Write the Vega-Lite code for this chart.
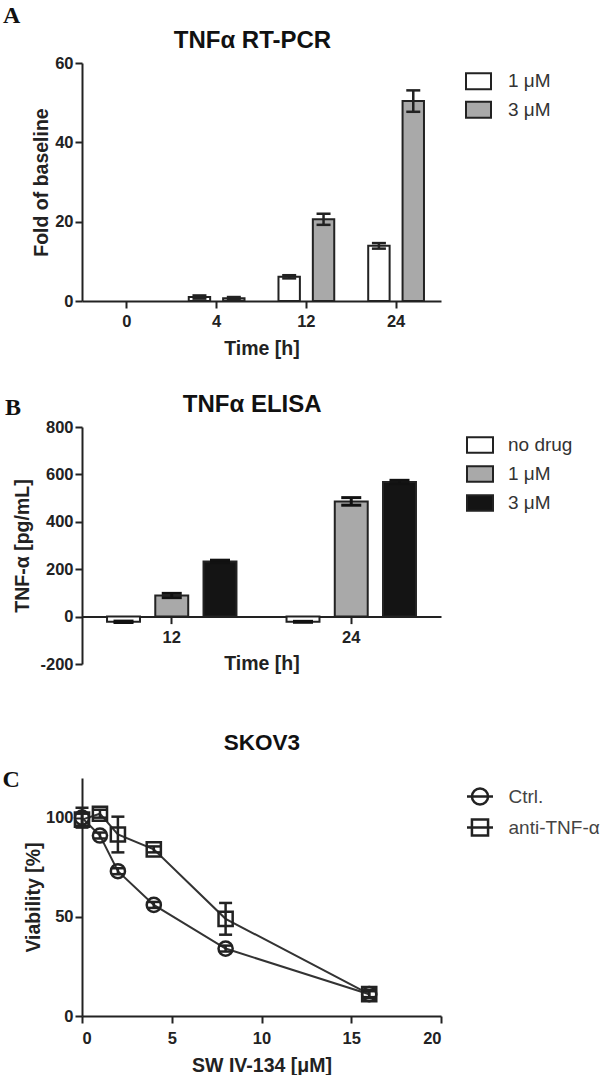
{
  "$schema": "https://vega.github.io/schema/vega-lite/v6.json",
  "background": "white",
  "padding": {"left": 2, "top": 3, "right": 0, "bottom": 0},
  "bounds": "flush",
  "spacing": 114,
  "resolve": {"scale": {"fill": "independent", "xOffset": "independent", "shape": "independent", "x": "independent", "y": "independent"}},
  "config": {
    "view": {"stroke": null},
    "font": "Liberation Sans",
    "axis": {"domainColor": "#222", "domainWidth": 2, "tickColor": "#222", "tickWidth": 2, "tickSize": 7, "labelFont": "Liberation Sans", "labelFontWeight": "bold", "labelFontSize": 16.5, "labelColor": "#222", "labelPadding": 2, "titleFont": "Liberation Sans", "titleFontWeight": "bold", "titleFontSize": 19.5, "titleColor": "#222", "grid": false},
    "axisX": {"labelPadding": 5.5, "titlePadding": 9, "labelAngle": 0},
    "axisY": {"titlePadding": 5.5},
    "legend": {"labelFont": "Liberation Sans", "labelFontSize": 19, "labelColor": "#333", "labelFontWeight": "normal", "padding": 0, "orient": "none"},
    "title": {"font": "Liberation Serif", "fontSize": 24, "fontWeight": "bold", "color": "#111", "anchor": "start", "frame": "group", "offset": 6}
  },
  "vconcat": [
    {
      "width": 359, "height": 238,
      "title": {"text": "A", "dx": -79, "dy": 5.4},
      "data": {"values": [
        {"time": "4", "conc": "1 μM", "v": 1.0, "lo": 0.6, "hi": 1.4},
        {"time": "4", "conc": "3 μM", "v": 0.7, "lo": 0.4, "hi": 1.0},
        {"time": "12", "conc": "1 μM", "v": 6.1, "lo": 5.7, "hi": 6.5},
        {"time": "12", "conc": "3 μM", "v": 20.6, "lo": 19.2, "hi": 22.0},
        {"time": "24", "conc": "1 μM", "v": 13.9, "lo": 13.2, "hi": 14.6},
        {"time": "24", "conc": "3 μM", "v": 50.4, "lo": 47.7, "hi": 53.1}
      ]},
      "resolve": {"axis": {"x": "independent", "y": "independent"}},
      "layer": [
        {
          "mark": {"type": "bar", "stroke": "#222", "strokeWidth": 2},
          "encoding": {
            "x": {"field": "time", "type": "nominal", "scale": {"domain": ["0", "4", "12", "24"], "paddingInner": 0.233, "paddingOuter": 0.117}, "axis": {"title": "Time [h]", "orient": "bottom"}},
            "xOffset": {"field": "conc", "type": "nominal", "scale": {"domain": ["1 μM", "3 μM"], "paddingInner": 0.377, "paddingOuter": 0.19}},
            "y": {"field": "v", "type": "quantitative", "scale": {"domain": [0, 60], "nice": false}, "axis": {"title": "Fold of baseline", "orient": "left", "values": [0, 20, 40, 60], "titlePadding": 3.5}},
            "fill": {"field": "conc", "type": "nominal", "scale": {"domain": ["1 μM", "3 μM"], "range": ["#ffffff", "#a9a9a9"]}, "legend": {"title": null, "legendX": 383, "legendY": 4.8, "symbolType": "M-1,-0.64H1V0.64H-1Z", "symbolSize": 625, "symbolStrokeColor": "#222", "symbolStrokeWidth": 2, "rowPadding": 2.5, "labelOffset": 16}}
          }
        },
        {
          "mark": {"type": "rule", "stroke": "#222", "strokeWidth": 2.5},
          "encoding": {
            "x": {"field": "time", "type": "nominal", "axis": {"orient": "top", "title": "TNFα RT-PCR", "labels": false, "ticks": false, "domain": false, "titleFontSize": 24, "titleX": 170, "titleY": -15.7, "titleAlign": "center", "titleBaseline": "alphabetic", "titleAngle": 0, "titleColor": "#111"}},
            "xOffset": {"field": "conc", "type": "nominal"},
            "y": {"field": "lo", "type": "quantitative", "axis": null},
            "y2": {"field": "hi"}
          }
        },
        {
          "mark": {"type": "tick", "color": "#222", "thickness": 2.5, "size": 14, "opacity": 1},
          "encoding": {
            "x": {"field": "time", "type": "nominal", "axis": null},
            "xOffset": {"field": "conc", "type": "nominal"},
            "y": {"field": "hi", "type": "quantitative", "axis": null}
          }
        },
        {
          "mark": {"type": "tick", "color": "#222", "thickness": 2.5, "size": 14, "opacity": 1},
          "encoding": {
            "x": {"field": "time", "type": "nominal", "axis": null},
            "xOffset": {"field": "conc", "type": "nominal"},
            "y": {"field": "lo", "type": "quantitative", "axis": null}
          }
        }
      ]
    },
    {
      "width": 359, "height": 249,
      "title": {"text": "B", "dx": -77, "dy": 33.4},
      "data": {"values": [
        {"time": "12", "trt": "no drug", "v": -22, "lo": -25, "hi": -19},
        {"time": "12", "trt": "1 μM", "v": 89, "lo": 80, "hi": 98},
        {"time": "12", "trt": "3 μM", "v": 233, "lo": 228, "hi": 238},
        {"time": "24", "trt": "no drug", "v": -22, "lo": -24, "hi": -20},
        {"time": "24", "trt": "1 μM", "v": 486, "lo": 470, "hi": 502},
        {"time": "24", "trt": "3 μM", "v": 568, "lo": 561, "hi": 575}
      ]},
      "resolve": {"axis": {"x": "independent", "y": "independent"}},
      "layer": [
        {
          "mark": {"type": "bar", "stroke": "#222", "strokeWidth": 2},
          "encoding": {
            "x": {"field": "time", "type": "nominal", "scale": {"domain": ["12", "24"], "paddingInner": 0.194, "paddingOuter": 0.097}, "axis": {"title": "Time [h]", "orient": "bottom", "offset": -47.4, "titlePadding": 8.5}},
            "xOffset": {"field": "trt", "type": "nominal", "scale": {"domain": ["no drug", "1 μM", "3 μM"], "paddingInner": 0.317, "paddingOuter": 0.158}},
            "y": {"field": "v", "type": "quantitative", "scale": {"domain": [-200, 800], "nice": false, "range": [249, 12]}, "axis": {"title": "TNF-α [pg/mL]", "orient": "left", "values": [-200, 0, 200, 400, 600, 800], "labelExpr": "'' + datum.value", "titlePadding": 7}},
            "fill": {"field": "trt", "type": "nominal", "scale": {"domain": ["no drug", "1 μM", "3 μM"], "range": ["#ffffff", "#a9a9a9", "#141414"]}, "legend": {"title": null, "legendX": 384, "legendY": 16, "symbolType": "M-1,-0.6H1V0.6H-1Z", "symbolSize": 676, "symbolStrokeColor": "#222", "symbolStrokeWidth": 2, "rowPadding": 3, "labelOffset": 14}}
          }
        },
        {
          "mark": {"type": "rule", "stroke": "#111", "strokeWidth": 3},
          "encoding": {
            "x": {"field": "time", "type": "nominal", "axis": {"orient": "top", "title": "TNFα ELISA", "labels": false, "ticks": false, "domain": false, "titleFontSize": 24, "titleX": 169.7, "titleY": -3.3, "titleAlign": "center", "titleBaseline": "alphabetic", "titleAngle": 0, "titleColor": "#111"}},
            "xOffset": {"field": "trt", "type": "nominal"},
            "y": {"field": "lo", "type": "quantitative", "axis": null},
            "y2": {"field": "hi"}
          }
        },
        {
          "mark": {"type": "tick", "color": "#111", "thickness": 3, "size": 20, "opacity": 1},
          "encoding": {
            "x": {"field": "time", "type": "nominal", "axis": null},
            "xOffset": {"field": "trt", "type": "nominal"},
            "y": {"field": "hi", "type": "quantitative", "axis": null}
          }
        },
        {
          "mark": {"type": "tick", "color": "#111", "thickness": 3, "size": 20, "opacity": 1},
          "encoding": {
            "x": {"field": "time", "type": "nominal", "axis": null},
            "xOffset": {"field": "trt", "type": "nominal"},
            "y": {"field": "lo", "type": "quantitative", "axis": null}
          }
        }
      ]
    },
    {
      "width": 359, "height": 238,
      "title": {"text": "C", "dx": -79.5, "dy": 66.2},
      "data": {"values": [
        {"x": 0, "g": "Ctrl.", "v": 100, "lo": 95, "hi": 105},
        {"x": 1, "g": "Ctrl.", "v": 91, "lo": 89.5, "hi": 92.5},
        {"x": 2, "g": "Ctrl.", "v": 73, "lo": 71.5, "hi": 74.5},
        {"x": 4, "g": "Ctrl.", "v": 56, "lo": 54.5, "hi": 57.5},
        {"x": 8, "g": "Ctrl.", "v": 34, "lo": 32.5, "hi": 35.5},
        {"x": 16, "g": "Ctrl.", "v": 11, "lo": 9.5, "hi": 12.5},
        {"x": 0, "g": "anti-TNF-α", "v": 99, "lo": 96, "hi": 102},
        {"x": 1, "g": "anti-TNF-α", "v": 102, "lo": 100, "hi": 104},
        {"x": 2, "g": "anti-TNF-α", "v": 91.5, "lo": 82.5, "hi": 100.5},
        {"x": 4, "g": "anti-TNF-α", "v": 84, "lo": 82.5, "hi": 85.5},
        {"x": 8, "g": "anti-TNF-α", "v": 49, "lo": 41, "hi": 57},
        {"x": 16, "g": "anti-TNF-α", "v": 11, "lo": 9, "hi": 13}
      ]},
      "resolve": {"axis": {"x": "independent", "y": "independent"}, "scale": {"shape": "independent"}},
      "layer": [
        {
          "mark": {"type": "line", "stroke": "#333", "strokeWidth": 2},
          "encoding": {
            "x": {"field": "x", "type": "quantitative", "scale": {"domain": [0, 20], "nice": false}, "axis": {"title": "SW IV-134 [μM]", "orient": "bottom", "values": [0, 5, 10, 15, 20], "labelPadding": 7, "titlePadding": 9.5}},
            "y": {"field": "v", "type": "quantitative", "scale": {"domain": [0, 120], "nice": false}, "axis": {"title": "Viability [%]", "orient": "left", "values": [0, 50, 100], "titlePadding": 1.5}},
            "detail": {"field": "g", "type": "nominal"}
          }
        },
        {
          "mark": {"type": "rule", "stroke": "#222", "strokeWidth": 2.5},
          "encoding": {
            "x": {"field": "x", "type": "quantitative", "axis": {"orient": "top", "title": "SKOV3", "labels": false, "ticks": false, "domain": false, "titleFontSize": 22.5, "titleX": 179.5, "titleY": -28.3, "titleAlign": "center", "titleBaseline": "alphabetic", "titleAngle": 0, "titleColor": "#111"}},
            "y": {"field": "lo", "type": "quantitative", "axis": null},
            "y2": {"field": "hi"}
          }
        },
        {
          "mark": {"type": "tick", "orient": "horizontal", "color": "#222", "thickness": 2.5, "size": 13, "opacity": 1},
          "encoding": {
            "x": {"field": "x", "type": "quantitative", "axis": null},
            "y": {"field": "hi", "type": "quantitative", "axis": null}
          }
        },
        {
          "mark": {"type": "tick", "orient": "horizontal", "color": "#222", "thickness": 2.5, "size": 13, "opacity": 1},
          "encoding": {
            "x": {"field": "x", "type": "quantitative", "axis": null},
            "y": {"field": "lo", "type": "quantitative", "axis": null}
          }
        },
        {
          "mark": {"type": "point", "filled": false, "stroke": "#222", "strokeWidth": 2.5, "size": 200, "opacity": 1},
          "encoding": {
            "x": {"field": "x", "type": "quantitative", "axis": null},
            "y": {"field": "v", "type": "quantitative", "axis": null},
            "shape": {"field": "g", "type": "nominal", "scale": {"domain": ["Ctrl.", "anti-TNF-α"], "range": ["circle", "square"]}, "legend": null}
          }
        },
        {
          "mark": {"type": "point", "filled": false, "stroke": "#222", "strokeWidth": 2.5, "opacity": 0},
          "encoding": {
            "x": {"field": "x", "type": "quantitative", "axis": null},
            "y": {"field": "v", "type": "quantitative", "axis": null},
            "shape": {"field": "g", "type": "nominal", "scale": {"domain": ["Ctrl.", "anti-TNF-α"], "range": ["M-1,0H1M0.62,0A0.62,0.62,0,1,1,-0.62,0A0.62,0.62,0,1,1,0.62,0", "M-1,0H1M-0.62,-0.62H0.62V0.62H-0.62Z"]}, "legend": {"title": null, "legendX": 383.5, "legendY": 4, "symbolSize": 676, "symbolOpacity": 1, "symbolStrokeColor": "#222", "symbolStrokeWidth": 2.5, "symbolFillColor": "transparent", "rowPadding": 3, "labelOffset": 14, "labelColor": "#444"}}
          }
        }
      ]
    }
  ]
}
